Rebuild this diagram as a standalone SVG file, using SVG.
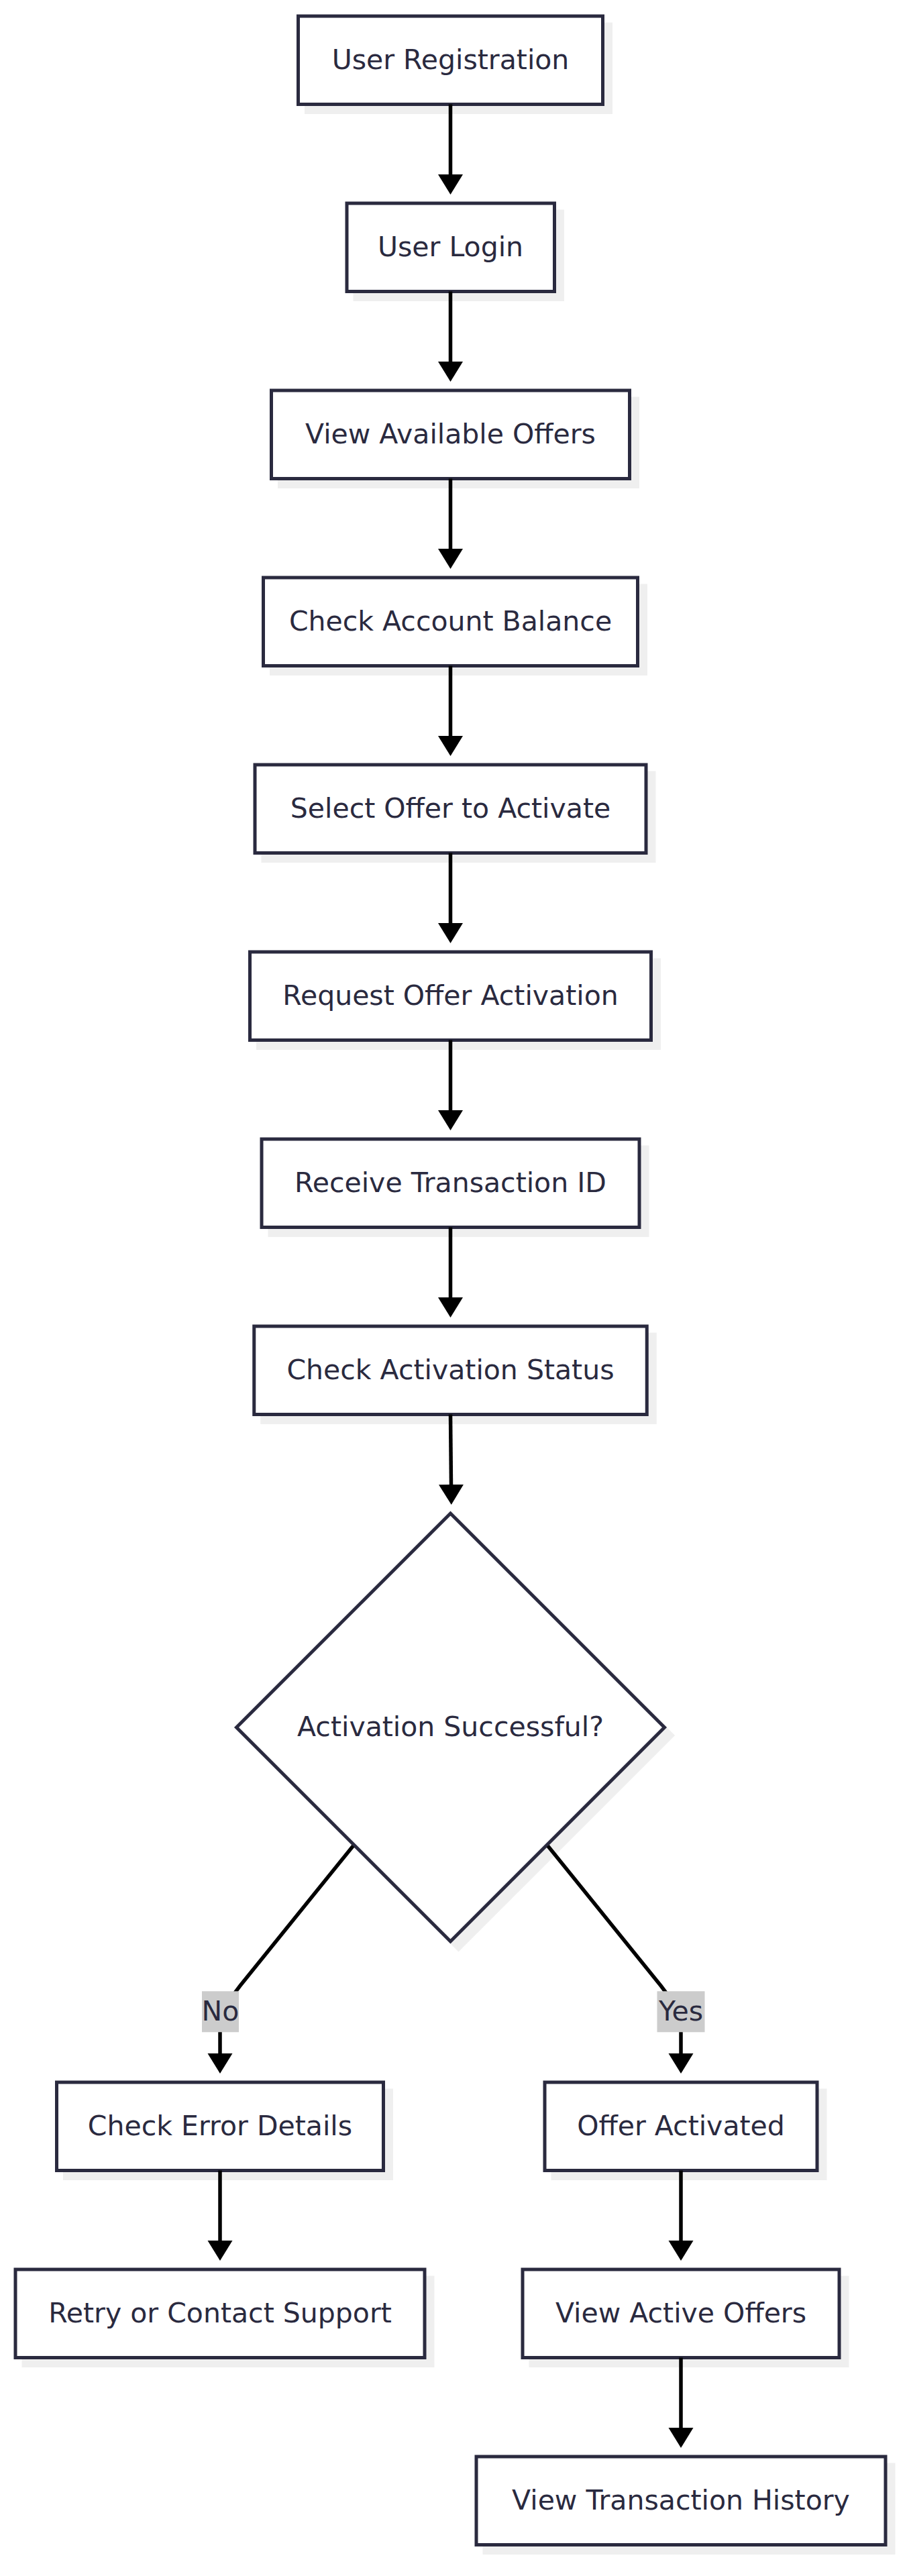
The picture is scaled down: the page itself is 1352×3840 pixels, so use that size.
<svg xmlns="http://www.w3.org/2000/svg" width="1352" height="3840" viewBox="0 0 1352 3840">
<defs>
<style>
.box{fill:#ffffff;stroke:#2a2a3f;stroke-width:5}
.sh{fill:#efefef;stroke:#efefef;stroke-width:5}
.t{font-family:"DejaVu Sans",sans-serif;font-size:41px;fill:#2a2a3f;text-anchor:middle}
.e{fill:none;stroke:#000000;stroke-width:5.5}
.lb{fill:#cccccc}
</style>
<marker id="arr" markerUnits="userSpaceOnUse" markerWidth="31" markerHeight="38" refX="0" refY="18.5" orient="auto" viewBox="0 0 31 37">
<path d="M0,0 L30,18.5 L0,37 z" fill="#000000"/>
</marker>
</defs>
<rect width="1352" height="3840" fill="#ffffff"/>
<g id="n1"><rect class="sh" x="456.5" y="36" width="454" height="131.5"/><rect class="box" x="444.5" y="24" width="454" height="131.5"/><text class="t" x="671.5" y="102.75">User Registration</text></g>
<g id="n2"><rect class="sh" x="529" y="315" width="309.5" height="131.5"/><rect class="box" x="517" y="303" width="309.5" height="131.5"/><text class="t" x="671.5" y="381.75">User Login</text></g>
<g id="n3"><rect class="sh" x="416.5" y="594" width="534" height="131.5"/><rect class="box" x="404.5" y="582" width="534" height="131.5"/><text class="t" x="671.5" y="660.75">View Available Offers</text></g>
<g id="n4"><rect class="sh" x="404.5" y="873" width="558" height="131.5"/><rect class="box" x="392.5" y="861" width="558" height="131.5"/><text class="t" x="671.5" y="939.75">Check Account Balance</text></g>
<g id="n5"><rect class="sh" x="392" y="1152" width="583" height="131.5"/><rect class="box" x="380" y="1140" width="583" height="131.5"/><text class="t" x="671.5" y="1218.75">Select Offer to Activate</text></g>
<g id="n6"><rect class="sh" x="384.5" y="1431" width="598" height="131.5"/><rect class="box" x="372.5" y="1419" width="598" height="131.5"/><text class="t" x="671.5" y="1497.75">Request Offer Activation</text></g>
<g id="n7"><rect class="sh" x="402" y="1710" width="563" height="131.5"/><rect class="box" x="390" y="1698" width="563" height="131.5"/><text class="t" x="671.5" y="1776.75">Receive Transaction ID</text></g>
<g id="n8"><rect class="sh" x="390.75" y="1989" width="585.5" height="131.5"/><rect class="box" x="378.75" y="1977" width="585.5" height="131.5"/><text class="t" x="671.5" y="2055.75">Check Activation Status</text></g>
<g id="n9"><polygon class="sh" points="683.5,2268 1002.5,2587 683.5,2906 364.5,2587"/><polygon class="box" points="671.5,2256 990.5,2575 671.5,2894 352.5,2575"/><text class="t" x="671.5" y="2588">Activation Successful?</text></g>
<g id="n10"><rect class="sh" x="96.5" y="3116" width="487" height="131.5"/><rect class="box" x="84.5" y="3104" width="487" height="131.5"/><text class="t" x="328" y="3182.75">Check Error Details</text></g>
<g id="n11"><rect class="sh" x="35" y="3395" width="610" height="131.5"/><rect class="box" x="23" y="3383" width="610" height="131.5"/><text class="t" x="328" y="3461.75">Retry or Contact Support</text></g>
<g id="n12"><rect class="sh" x="824" y="3116" width="406" height="131.5"/><rect class="box" x="812" y="3104" width="406" height="131.5"/><text class="t" x="1015" y="3182.75">Offer Activated</text></g>
<g id="n13"><rect class="sh" x="791" y="3395" width="472" height="131.5"/><rect class="box" x="779" y="3383" width="472" height="131.5"/><text class="t" x="1015" y="3461.75">View Active Offers</text></g>
<g id="n14"><rect class="sh" x="722" y="3674" width="610" height="131.5"/><rect class="box" x="710" y="3662" width="610" height="131.5"/><text class="t" x="1015" y="3740.75">View Transaction History</text></g>
<g id="connectors">
<path class="e" d="M671.5,155.5 L671.5,260" marker-end="url(#arr)"/>
<path class="e" d="M671.5,434.5 L671.5,539" marker-end="url(#arr)"/>
<path class="e" d="M671.5,713.5 L671.5,818" marker-end="url(#arr)"/>
<path class="e" d="M671.5,992.5 L671.5,1097" marker-end="url(#arr)"/>
<path class="e" d="M671.5,1271.5 L671.5,1376" marker-end="url(#arr)"/>
<path class="e" d="M671.5,1550.5 L671.5,1655" marker-end="url(#arr)"/>
<path class="e" d="M671.5,1829.5 L671.5,1934" marker-end="url(#arr)"/>
<path class="e" d="M671.5,2108.5 L672.5,2213" marker-end="url(#arr)"/>
<path class="e" d="M526.3,2751.7 L358,2960 Q328,2998 328,3030 L328,3061" marker-end="url(#arr)"/>
<path class="e" d="M816.7,2751.7 L985,2960 Q1015,2998 1015,3030 L1015,3061" marker-end="url(#arr)"/>
<path class="e" d="M328,3235.5 L328,3340" marker-end="url(#arr)"/>
<path class="e" d="M1015,3235.5 L1015,3340" marker-end="url(#arr)"/>
<path class="e" d="M1015,3514.5 L1015,3619" marker-end="url(#arr)"/>
<g id="label-no"><rect class="lb" x="301" y="2968.3" width="55" height="61"/><text class="t" x="328.5" y="3011.8">No</text></g>
<g id="label-yes"><rect class="lb" x="979.5" y="2968.3" width="71" height="61"/><text class="t" x="1015" y="3011.8">Yes</text></g>
</g>
</svg>
